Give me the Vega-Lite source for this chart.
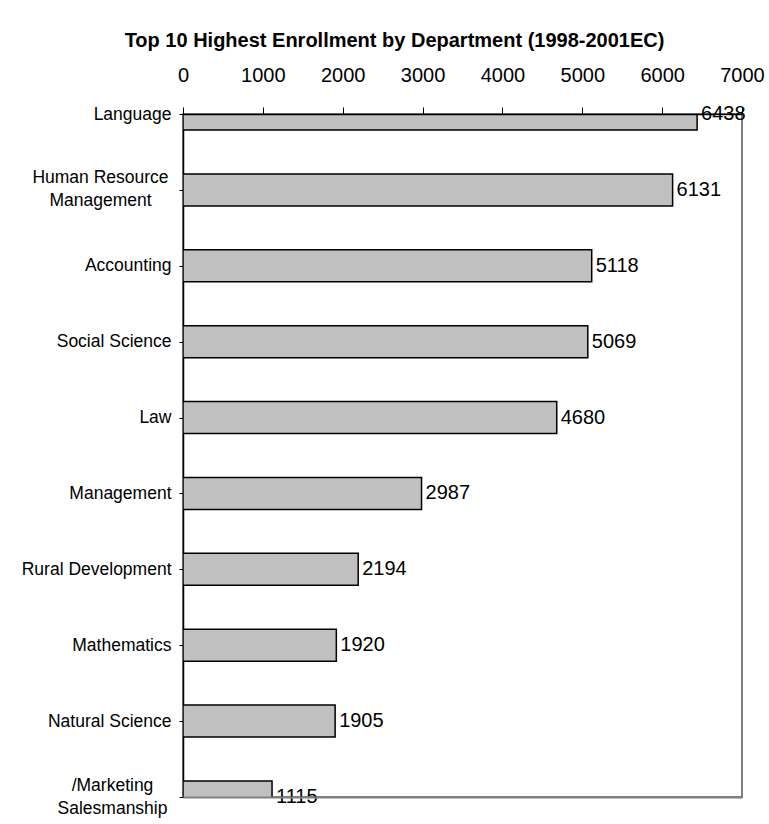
{
  "$schema": "https://vega.github.io/schema/vega-lite/v6.json",
  "autosize": {"type": "none"},
  "width": 559,
  "height": 683,
  "padding": {"left": 183, "top": 114, "right": 27, "bottom": 27},
  "background": "white",
  "title": {
    "text": "Top 10 Highest Enrollment by Department (1998-2001EC)",
    "font": "Liberation Sans",
    "fontSize": 20,
    "fontWeight": "bold",
    "color": "black",
    "anchor": "middle",
    "dx": -68,
    "offset": 14
  },
  "config": {
    "view": {"stroke": "#808080", "strokeWidth": 2},
    "font": "Liberation Sans"
  },
  "data": {
    "values": [
      {"department": "Language", "enrollment": 6438},
      {"department": "Human Resource Management", "enrollment": 6131},
      {"department": "Accounting", "enrollment": 5118},
      {"department": "Social Science", "enrollment": 5069},
      {"department": "Law", "enrollment": 4680},
      {"department": "Management", "enrollment": 2987},
      {"department": "Rural Development", "enrollment": 2194},
      {"department": "Mathematics", "enrollment": 1920},
      {"department": "Natural Science", "enrollment": 1905},
      {"department": "/Marketing Salesmanship", "enrollment": 1115}
    ]
  },
  "encoding": {
    "y": {
      "field": "department",
      "type": "nominal",
      "sort": null,
      "scale": {"type": "point", "padding": 0},
      "axis": {
        "title": null,
        "domainColor": "black",
        "domainWidth": 1.5,
        "tickColor": "black",
        "tickSize": 4,
        "labelPadding": {
          "condition": [
            {"test": "datum.value == 'Human Resource Management'", "value": 79},
            {"test": "datum.value == '/Marketing Salesmanship'", "value": 67}
          ],
          "value": 8
        },
        "labelAlign": {
          "condition": {"test": "datum.value == 'Human Resource Management' || datum.value == '/Marketing Salesmanship'", "value": "center"},
          "value": "right"
        },
        "labelFontSize": 17.5,
        "labelColor": "black",
        "labelLineHeight": 23,
        "labelOffset": {
          "condition": {"test": "datum.value == 'Human Resource Management' || datum.value == '/Marketing Salesmanship'", "value": -12},
          "value": 0
        },
        "labelExpr": "datum.label == 'Human Resource Management' ? ['Human Resource', 'Management'] : datum.label == '/Marketing Salesmanship' ? ['/Marketing', 'Salesmanship'] : datum.label"
      }
    }
  },
  "layer": [
    {
      "mark": {"type": "bar", "height": 32, "fill": "#C0C0C0", "stroke": "black", "strokeWidth": 1.5, "clip": true},
      "encoding": {
        "x": {
          "field": "enrollment",
          "type": "quantitative",
          "scale": {"domain": [0, 7000], "nice": false},
          "axis": {
            "orient": "top",
            "title": null,
            "values": [0, 1000, 2000, 3000, 4000, 5000, 6000, 7000],
            "format": "d",
            "grid": false,
            "domainColor": "black",
            "domainWidth": 1.5,
            "tickColor": "black",
            "tickSize": 7,
            "labelPadding": 22,
            "labelFontSize": 20,
            "labelColor": "black",
            "labelFlush": false,
            "zindex": 1
          }
        }
      }
    },
    {
      "mark": {"type": "text", "align": "left", "baseline": "middle", "dx": 4, "fontSize": 20, "color": "black"},
      "encoding": {
        "x": {
          "field": "enrollment",
          "type": "quantitative",
          "axis": {
            "orient": "bottom",
            "title": null,
            "labels": false,
            "ticks": false,
            "grid": false,
            "domainColor": "#808080",
            "domainWidth": 2,
            "zindex": 1
          }
        },
        "text": {"field": "enrollment", "type": "quantitative", "format": "d"}
      }
    }
  ]
}
